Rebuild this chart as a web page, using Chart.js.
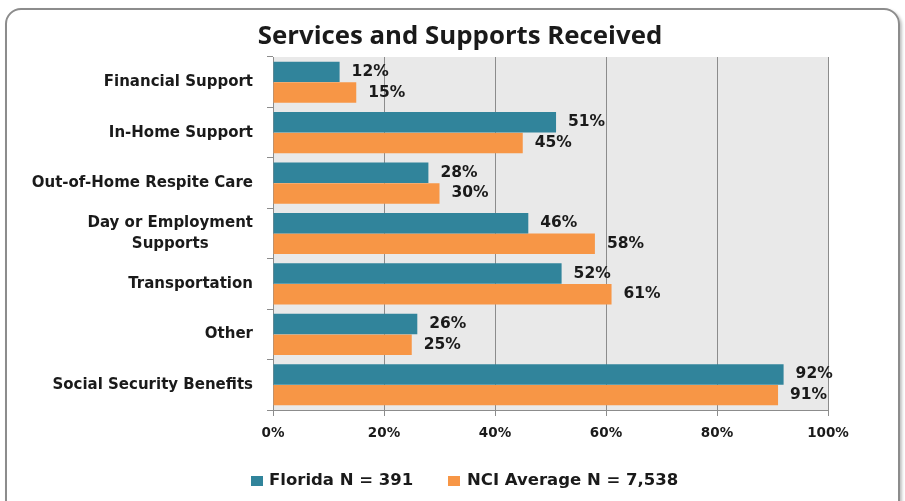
<!DOCTYPE html>
<html>
<head>
<meta charset="utf-8">
<script src="https://cdn.jsdelivr.net/npm/chart.js@4"></script>
<style>
  html, body { margin: 0; padding: 0; background: #fff; overflow: hidden; }
  #frame {
    position: absolute; left: 5px; top: 8px; width: 891px; height: 520px;
    border: 2px solid #8c8c8c; border-radius: 16px;
    box-shadow: 2px 2px 3px rgba(0,0,0,0.25);
  }
  #wrap { position: absolute; left: 0; top: 0; width: 905px; height: 501px; }
</style>
</head>
<body>
<div id="frame"></div>
<div id="wrap"><canvas id="chart" width="905" height="501"></canvas></div>
<script>
const categories = [
  "Financial Support",
  "In-Home Support",
  "Out-of-Home Respite Care",
  ["Day or Employment", "Supports"],
  "Transportation",
  "Other",
  "Social Security Benefits"
];
const florida = [12, 51, 28, 46, 52, 26, 92];
const nciAverage = [15, 45, 30, 58, 61, 25, 91];
const xTicks = [0, 20, 40, 60, 80, 100];
const seriesNames = ["Florida N = 391", "NCI Average N = 7,538"];

const teal = "#31849b";
const orange = "#f79646";
const textColor = "#1a1a1a";
const wideFont = "'DejaVu Sans', sans-serif";
const titleFont = "'Open Sans', sans-serif";

const backdrop = {
  id: "backdrop",
  beforeDraw(chart) {
    const { ctx, chartArea: a } = chart;
    ctx.save();
    ctx.fillStyle = "#e9e9e9";
    ctx.fillRect(a.left, a.top, a.right - a.left, a.bottom - a.top);
    ctx.restore();
  }
};

const extras = {
  id: "extras",
  afterDraw(chart) {
    const { ctx } = chart;
    const y = chart.scales.y;
    ctx.save();

    // title
    ctx.fillStyle = textColor;
    ctx.font = "bold 25.8px " + titleFont;
    ctx.textAlign = "center";
    ctx.textBaseline = "middle";
    ctx.fillText("Services and Supports Received", 460, 37);

    // category labels, right-aligned block, lines centred within it
    ctx.font = "bold 15px " + wideFont;
    categories.forEach((c, i) => {
      const lines = Array.isArray(c) ? c : [c];
      const w = Math.max(...lines.map(l => ctx.measureText(l).width));
      const cy = y.getPixelForValue(i);
      const lh = 21;
      lines.forEach((l, k) => {
        const ly = cy + (k - (lines.length - 1) / 2) * lh;
        ctx.textAlign = "center";
        ctx.fillText(l, 253 - w / 2, ly);
      });
    });

    // value labels
    ctx.font = "bold 15.5px " + wideFont;
    ctx.textAlign = "left";
    chart.data.datasets.forEach((ds, di) => {
      chart.getDatasetMeta(di).data.forEach((bar, i) => {
        ctx.fillText(ds.data[i] + "%", bar.x + 12, bar.y);
      });
    });

    // legend
    ctx.font = "bold 16.5px " + wideFont;
    const colors = [teal, orange];
    const boxes = [251, 448];
    const texts = [269, 467];
    seriesNames.forEach((name, i) => {
      ctx.fillStyle = colors[i];
      ctx.fillRect(boxes[i], 476, 12, 10);
      ctx.fillStyle = textColor;
      ctx.fillText(name, texts[i], 481);
    });
    ctx.restore();
  }
};

new Chart(document.getElementById("chart"), {
  type: "bar",
  data: {
    labels: categories,
    datasets: [
      { label: seriesNames[0], data: florida, backgroundColor: teal, categoryPercentage: 0.82, barPercentage: 0.99 },
      { label: seriesNames[1], data: nciAverage, backgroundColor: orange, categoryPercentage: 0.82, barPercentage: 0.99 }
    ]
  },
  options: {
    indexAxis: "y",
    responsive: false,
    animation: false,
    layout: { padding: { left: 0, top: 57, right: 77, bottom: 0 } },
    plugins: {
      legend: { display: false },
      tooltip: { enabled: false }
    },
    scales: {
      x: {
        min: 0,
        max: 100,
        afterFit(s) { s.height = 91; },
        afterBuildTicks(s) { s.ticks = xTicks.map(v => ({ value: v })); },
        grid: { color: "#8c8c8c", lineWidth: 1, tickLength: 6 },
        border: { color: "#8c8c8c" },
        ticks: {
          color: textColor,
          padding: 9,
          font: { family: wideFont, size: 13.5, weight: "bold" },
          callback: v => v + "%"
        }
      },
      y: {
        afterFit(s) { s.width = 273; },
        grid: { drawOnChartArea: false, color: "#8c8c8c", tickLength: 6, offset: true },
        border: { color: "#8c8c8c" },
        ticks: { display: false }
      }
    }
  },
  plugins: [backdrop, extras]
});
</script>
</body>
</html>
